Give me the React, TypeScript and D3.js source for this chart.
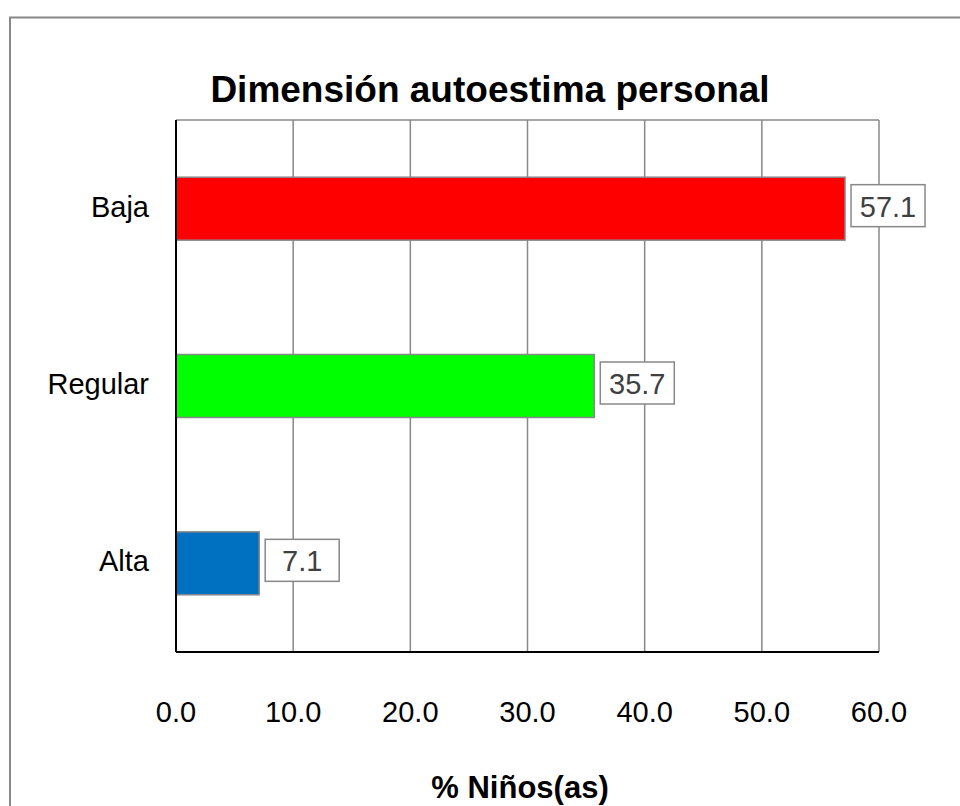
import React from "react";
import * as d3 from "d3";

const categories = ["Baja", "Regular", "Alta"];
const values = [57.1, 35.7, 7.1];
const barColors = ["#FF0000", "#00FF00", "#0070C0"];
const xTicks = [0, 10, 20, 30, 40, 50, 60];
const title = "Dimensión autoestima personal";
const xTitle = "% Niños(as)";

export default function App() {
  const W = 960, H = 806;
  const left = 176, right = 879, top = 120, bottom = 652;
  const x = d3.scaleLinear().domain([0, 60]).range([left, right]);
  const y = d3.scaleBand<string>().domain(categories).range([top, bottom]).paddingInner(0.645).paddingOuter(0.3225);
  const font = "Liberation Sans, Arial, sans-serif";
  return (
    <svg width={W} height={H} style={{ position: "absolute", left: 0, top: 0 }} fontFamily={font}>
      <rect x={0} y={0} width={W} height={H} fill="#fff" />
      <rect x={10} y={17.5} width={W + 20} height={H + 20} fill="none" stroke="#888" strokeWidth={2} />
      <text x={490} y={102} textAnchor="middle" fontSize={37} fontWeight="bold" fill="#000">{title}</text>
      {xTicks.map((t) => (
        <line key={t} x1={x(t)} x2={x(t)} y1={top} y2={bottom} stroke="#888" strokeWidth={1.5} />
      ))}
      <line x1={left} x2={right} y1={top} y2={top} stroke="#888" strokeWidth={1.5} />
      {categories.map((c, i) => {
        const y0 = y(c)!;
        const bw = y.bandwidth();
        const xe = x(values[i]);
        const boxW = 74, boxH = 42;
        const bx = xe + 6;
        const cy = y0 + bw / 2;
        return (
          <g key={c}>
            <rect x={x(0)} y={y0} width={xe - x(0)} height={bw} fill={barColors[i]} stroke="#888" strokeWidth={1.5} />
            <rect x={bx} y={cy - boxH / 2 - 3} width={boxW} height={boxH} fill="#fff" stroke="#888" strokeWidth={1.5} />
            <text x={bx + boxW / 2} y={cy + 8} textAnchor="middle" fontSize={29} fill="#404040">{values[i].toFixed(1)}</text>
            <text x={149} y={cy + 8} textAnchor="end" fontSize={29} fill="#000">{c}</text>
          </g>
        );
      })}
      <line x1={left} x2={left} y1={top} y2={bottom} stroke="#000" strokeWidth={2} />
      <line x1={left} x2={right} y1={bottom} y2={bottom} stroke="#000" strokeWidth={2} />
      {xTicks.map((t) => (
        <text key={"l" + t} x={x(t)} y={722} textAnchor="middle" fontSize={29} fill="#000">{t.toFixed(1)}</text>
      ))}
      <text x={520} y={798} textAnchor="middle" fontSize={31} fontWeight="bold" fill="#000">{xTitle}</text>
    </svg>
  );
}
